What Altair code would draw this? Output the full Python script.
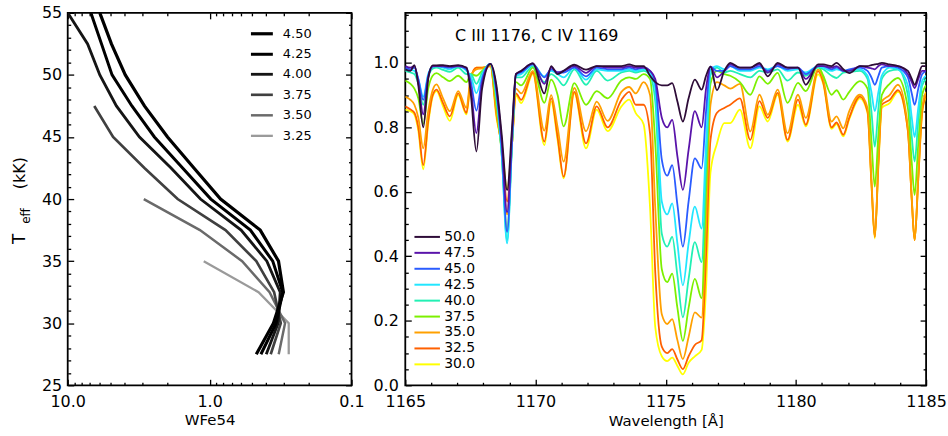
import altair as alt
import pandas as pd

FONT = "DejaVu Sans"

# ---------------- left panel data ----------------
teff_grid = [27.5, 30.0, 32.5, 35.0, 37.5, 40.0, 42.5, 45.0, 47.5, 50.0, 52.5, 55.0]
logg_labels = ["4.50", "4.25", "4.00", "3.75", "3.50", "3.25"]
wfe_450 = [0.469, 0.355, 0.302, 0.327, 0.440, 0.837, 1.29, 1.98, 2.88, 3.93, 4.92, 5.94]
wfe_425 = [0.435, 0.340, 0.305, 0.359, 0.516, 0.980, 1.55, 2.45, 3.53, 4.87, 5.78, 6.87]
wfe_400 = [0.399, 0.329, 0.318, 0.395, 0.600, 1.16, 1.87, 3.12, 4.54, 5.94, 7.24, 10.0]
wfe_375 = [0.371, 0.315, 0.351, 0.469, 0.773, 1.68, 2.88, 4.79, 6.50]
wfe_350 = [0.326, 0.294, 0.378, 0.590, 1.17, 2.91]
wfe_325 = [0.277, 0.277, 0.452, 1.10]
left_colors = ["#000000", "#000000", "#151515", "#404040", "#6a6a6a", "#9a9a9a"]
left_widths = [3.2, 2.3, 1.3, 1.3, 1.3, 1.3]

# ---------------- right panel data ----------------
wavelength = [1165.00, 1165.20, 1165.35, 1165.50, 1165.69, 1165.88, 1166.05, 1166.20, 1166.45, 1166.71,
              1167.03, 1167.35, 1167.52, 1167.73, 1167.95, 1168.27, 1168.50, 1168.70, 1168.91, 1169.10,
              1169.25, 1169.45, 1169.90, 1170.34, 1170.60, 1170.85, 1171.08, 1171.49, 1171.94, 1172.35,
              1172.77, 1173.30, 1173.60, 1173.85, 1174.15, 1174.40, 1174.60, 1174.85, 1175.06, 1175.25,
              1175.45, 1175.66, 1175.88, 1176.12, 1176.38, 1176.55, 1176.72, 1176.97, 1177.25, 1177.48,
              1177.85, 1178.25, 1178.60, 1178.92, 1179.30, 1179.68, 1180.08, 1180.38, 1180.85, 1181.05,
              1181.37, 1181.56, 1181.82, 1182.05, 1182.46, 1182.75, 1182.90, 1183.03, 1183.17, 1183.30,
              1183.60, 1183.92, 1184.30, 1184.45, 1184.56, 1184.70, 1184.85, 1185.00]
temp_labels = ["50.0", "47.5", "45.0", "42.5", "40.0", "37.5", "35.0", "32.5", "30.0"]
temp_colors = ["#2e0c38", "#5a14aa", "#2a5cff", "#22e6ff", "#22f0b4", "#7cf000", "#ffa000", "#ff6000", "#ffff00"]
flux_500 = [.980, .975, .993, .930, .800, .950, .992, .992, .993, .990,
            .993, .985, .900, .725, .920, .997, .930, .780, .605, .800,
            .965, .975, .998, .905, .990, .965, .975, .994, .979, .990,
            .990, .990, .995, .990, .990, .960, .940, .930, .930, .937,
            .880, .818, .890, .948, .917, .960, .988, .915, .975, 1.00,
            .985, .985, 1.00, .958, 1.00, .985, .985, .932, .995, .995,
            .990, 1.00, .980, .968, .990, .990, .993, .995, .997, 1.00,
            .995, .990, .975, .950, .932, .960, .990, .990]
flux_475 = [.990, .985, .990, .940, .840, .955, .990, .990, .990, .988,
            .990, .985, .920, .782, .935, .997, .920, .760, .536, .780,
            .965, .975, .998, .935, .985, .970, .975, .990, .969, .990,
            .985, .985, .990, .985, .985, .975, .950, .830, .800, .823,
            .710, .606, .730, .850, .800, .920, .988, .955, .975, .995,
            .985, .985, .995, .970, .995, .985, .985, .950, .990, .990,
            .985, .990, .975, .975, .990, .985, .983, .980, .990, .995,
            .990, .990, .965, .940, .922, .950, .975, .975]
flux_450 = [.985, .980, .985, .950, .885, .960, .988, .990, .988, .985,
            .990, .980, .940, .852, .950, .997, .910, .740, .476, .760,
            .965, .970, .995, .955, .980, .970, .970, .985, .958, .985,
            .980, .980, .985, .980, .985, .975, .940, .700, .650, .683,
            .560, .430, .570, .704, .673, .850, .988, .975, .975, .990,
            .980, .980, .990, .975, .990, .980, .985, .965, .990, .990,
            .980, .985, .975, .980, .985, .975, .955, .932, .960, .985,
            .990, .985, .955, .905, .870, .920, .965, .975]
flux_425 = [.980, .978, .975, .950, .895, .965, .988, .990, .985, .980,
            .990, .975, .958, .906, .960, .997, .900, .720, .440, .750,
            .960, .965, .995, .958, .975, .965, .955, .985, .948, .980,
            .975, .975, .980, .975, .980, .970, .920, .570, .530, .564,
            .440, .310, .440, .554, .486, .750, .978, .990, .980, .990,
            .975, .975, .985, .980, .990, .975, .980, .970, .990, .985,
            .975, .980, .975, .978, .980, .960, .910, .850, .910, .960,
            .985, .980, .930, .830, .770, .860, .945, .960]
flux_400 = [.975, .970, .965, .935, .870, .955, .982, .985, .978, .972,
            .985, .965, .965, .935, .970, .997, .890, .720, .450, .750,
            .955, .955, .990, .940, .965, .950, .930, .980, .932, .975,
            .945, .970, .975, .970, .975, .960, .880, .470, .430, .460,
            .340, .211, .330, .444, .382, .680, .962, .985, .970, .975,
            .965, .955, .975, .970, .980, .945, .970, .960, .985, .980,
            .960, .953, .970, .972, .975, .950, .850, .740, .860, .950,
            .975, .979, .900, .770, .694, .820, .930, .950]
flux_375 = [.945, .935, .920, .890, .810, .920, .960, .968, .955, .943,
            .960, .940, .965, .960, .975, .995, .870, .720, .480, .750,
            .940, .930, .985, .876, .948, .900, .803, .937, .870, .912,
            .890, .945, .955, .950, .965, .950, .750, .360, .320, .346,
            .240, .138, .240, .330, .270, .600, .935, .975, .965, .960,
            .940, .901, .958, .935, .969, .876, .938, .912, .990, .960,
            .901, .915, .886, .910, .943, .920, .760, .616, .780, .900,
            .935, .953, .860, .690, .590, .750, .900, .930]
flux_350 = [.895, .885, .870, .830, .735, .850, .915, .933, .890, .850,
            .912, .860, .960, .980, .983, .990, .850, .730, .530, .750,
            .920, .905, .975, .790, .900, .800, .694, .922, .788, .880,
            .820, .910, .925, .905, .940, .900, .550, .220, .190, .205,
            .140, .081, .150, .226, .210, .500, .870, .940, .930, .920,
            .935, .787, .901, .839, .917, .782, .901, .829, .979, .950,
            .818, .834, .797, .850, .901, .860, .640, .460, .700, .880,
            .900, .932, .800, .580, .450, .650, .860, .910]
flux_325 = [.865, .855, .845, .800, .683, .820, .900, .917, .875, .834,
            .905, .845, .955, .985, .985, .990, .840, .740, .570, .750,
            .905, .885, .970, .756, .890, .770, .647, .910, .750, .865,
            .800, .885, .910, .870, .870, .780, .350, .120, .100, .112,
            .080, .050, .090, .125, .140, .400, .760, .845, .860, .870,
            .890, .761, .881, .829, .907, .761, .886, .808, .974, .940,
            .800, .815, .777, .830, .895, .850, .630, .460, .690, .870,
            .885, .915, .790, .575, .450, .640, .850, .900]
flux_300 = [.855, .850, .840, .790, .670, .810, .895, .912, .865, .820,
            .900, .840, .950, .985, .985, .990, .830, .750, .610, .750,
            .900, .875, .965, .745, .880, .760, .642, .905, .735, .855,
            .788, .865, .886, .844, .810, .550, .180, .090, .075, .086,
            .060, .034, .070, .090, .110, .300, .660, .750, .813, .813,
            .855, .735, .865, .818, .901, .756, .870, .803, .964, .935,
            .795, .810, .772, .825, .890, .845, .625, .455, .680, .860,
            .875, .910, .790, .575, .450, .640, .845, .895]

# tick values
left_x_major = [0.1, 1.0, 10.0]
left_x_minor = [0.2, 0.3, 0.4, 0.5, 0.6, 0.7, 0.8, 0.9, 2, 3, 4, 5, 6, 7, 8, 9]
left_y_major = [25, 30, 35, 40, 45, 50, 55]
left_y_minor = [v for v in range(26, 55) if v % 5 != 0]
right_x_major = [1165, 1170, 1175, 1180, 1185]
right_x_minor = [v for v in range(1166, 1185) if v % 5 != 0]
right_y_major = [0.0, 0.2, 0.4, 0.6, 0.8, 1.0]
right_y_minor = [round(0.05 * k, 2) for k in range(1, 24) if k % 4 != 0]

# ---------------- tables ----------------
left_series = [wfe_450, wfe_425, wfe_400, wfe_375, wfe_350, wfe_325]
rows = []
for lab, vals in reversed(list(zip(logg_labels, left_series))):
    for t, v in zip(teff_grid, vals):
        rows.append({"logg": lab, "teff": t, "wfe": v})
df_left = pd.DataFrame(rows)

spec_series = [flux_500, flux_475, flux_450, flux_425, flux_400, flux_375, flux_350, flux_325, flux_300]
rows = []
for lab, vals in reversed(list(zip(temp_labels, spec_series))):
    assert len(vals) == len(wavelength), lab
    for w, f in zip(wavelength, vals):
        rows.append({"T": lab, "wl": w, "flux": f})
df_spec = pd.DataFrame(rows)


def axis(orient, values, size, **extra):
    kw = dict(orient=orient, values=values, tickSize=size, offset=-size, domain=False,
              grid=False, labels=False, ticks=True, tickColor="#000", tickWidth=1.3, title=None,
              labelFont=FONT, labelFontSize=16, labelColor="#000",
              titleFont=FONT, titleFontSize=15, titleFontWeight="normal", titleColor="#000")
    kw.update(extra)
    return alt.Axis(**kw)


H = 374
WL, WR = 285, 523

# ---------------- left panel ----------------
xL = alt.Scale(type="log", domain=[0.1, 10], reverse=True, nice=False)
yL = alt.Scale(domain=[25, 55], nice=False, zero=False)

left_legend = alt.Legend(orient="none", legendX=183, legendY=9, title=None,
                         symbolType="M-1.1,0L1.1,0", symbolSize=400, rowPadding=1.6,
                         labelOffset=9, labelFontSize=13, labelFont=FONT, labelColor="#000",
                         padding=0)

left_lines = alt.Chart(df_left).mark_line(clip=True).encode(
    x=alt.X("wfe:Q", scale=xL,
            axis=axis("bottom", left_x_major, 6, labels=True, format=".1f", labelFlush=False,
                      labelPadding=8, title="WFe54", titlePadding=3)),
    y=alt.Y("teff:Q", scale=yL,
            axis=axis("left", left_y_major, 6, labels=True, format="d", labelPadding=6)),
    color=alt.Color("logg:N", scale=alt.Scale(domain=logg_labels, range=left_colors), legend=left_legend),
    strokeWidth=alt.StrokeWidth("logg:N", scale=alt.Scale(domain=logg_labels, range=left_widths),
                                legend=left_legend),
    order="teff:Q",
)


def ghost(df, xf, yf, xs, ys, xax, yax):
    return alt.Chart(df).mark_point(opacity=0).encode(
        x=alt.X(xf, scale=xs, axis=xax), y=alt.Y(yf, scale=ys, axis=yax))


left_g2 = ghost(df_left, "wfe:Q", "teff:Q", xL, yL,
                axis("bottom", left_x_minor, 3), axis("left", left_y_minor, 3))
left_g3 = ghost(df_left, "wfe:Q", "teff:Q", xL, yL,
                axis("top", left_x_major, 6), axis("right", left_y_major, 6))
left_g4 = ghost(df_left, "wfe:Q", "teff:Q", xL, yL,
                axis("top", left_x_minor, 3), axis("right", left_y_minor, 3))

title_df = pd.DataFrame({"k": [0]})
t_T = alt.Chart(title_df).mark_text(text="T", angle=270, font=FONT, fontSize=17, align="center",
                                    baseline="middle", fill="#000").encode(
    x=alt.value(-48), y=alt.value(227))
t_eff = alt.Chart(title_df).mark_text(text="eff", angle=270, font=FONT, fontSize=12, align="center",
                                      baseline="middle", fill="#000").encode(
    x=alt.value(-42), y=alt.value(204))
t_kk = alt.Chart(title_df).mark_text(text="(kK)", angle=270, font=FONT, fontSize=16, align="center",
                                     baseline="middle", fill="#000").encode(
    x=alt.value(-48), y=alt.value(161))

left = alt.layer(left_lines, left_g2, left_g3, left_g4, t_T, t_eff, t_kk).resolve_axis(
    x="independent", y="independent").properties(width=WL, height=H)

# ---------------- right panel ----------------
xR = alt.Scale(domain=[1165, 1185], nice=False, zero=False)
yR = alt.Scale(domain=[0, 1.155], nice=False, zero=False)

right_legend = alt.Legend(orient="none", legendX=13, legendY=216, title=None,
                          symbolType="M-1.6,0L1.6,0", symbolSize=256, rowPadding=0,
                          symbolStrokeWidth=2, labelOffset=8, labelFontSize=14,
                          labelFont=FONT, labelColor="#000", padding=0)

right_lines = alt.Chart(df_spec).mark_line(clip=True, strokeWidth=1.8, interpolate="monotone").encode(
    x=alt.X("wl:Q", scale=xR,
            axis=axis("bottom", right_x_major, 6, labels=True, format="d", labelFlush=False,
                      labelPadding=8, title="Wavelength [Å]", titlePadding=4)),
    y=alt.Y("flux:Q", scale=yR,
            axis=axis("left", right_y_major, 6, labels=True, format=".1f", labelPadding=7)),
    color=alt.Color("T:N", scale=alt.Scale(domain=temp_labels, range=temp_colors), legend=right_legend),
)

right_g2 = ghost(df_spec, "wl:Q", "flux:Q", xR, yR,
                 axis("bottom", right_x_minor, 3), axis("left", right_y_minor, 3))
right_g3 = ghost(df_spec, "wl:Q", "flux:Q", xR, yR,
                 axis("top", right_x_major, 6), axis("right", right_y_major, 6))
right_g4 = ghost(df_spec, "wl:Q", "flux:Q", xR, yR,
                 axis("top", right_x_minor, 3), axis("right", right_y_minor, 3))

label_txt = alt.Chart(title_df).mark_text(text="C  III  1176,  C  IV  1169", font=FONT, fontSize=16,
                                          align="left", baseline="middle", fill="#000").encode(
    x=alt.value(50), y=alt.value(23))

right = alt.layer(right_lines, right_g2, right_g3, right_g4, label_txt).resolve_axis(
    x="independent", y="independent").properties(width=WR, height=H)

chart = alt.hconcat(left, right, spacing=6).resolve_scale(
    color="independent", strokeWidth="independent"
).resolve_legend(color="independent", strokeWidth="independent").properties(
    padding={"left": 10, "top": 3, "right": 0, "bottom": 0}, background="white"
).configure_view(stroke="black", strokeWidth=1.8)

chart.save("out.html", embed_options={"renderer": "svg", "actions": False})
